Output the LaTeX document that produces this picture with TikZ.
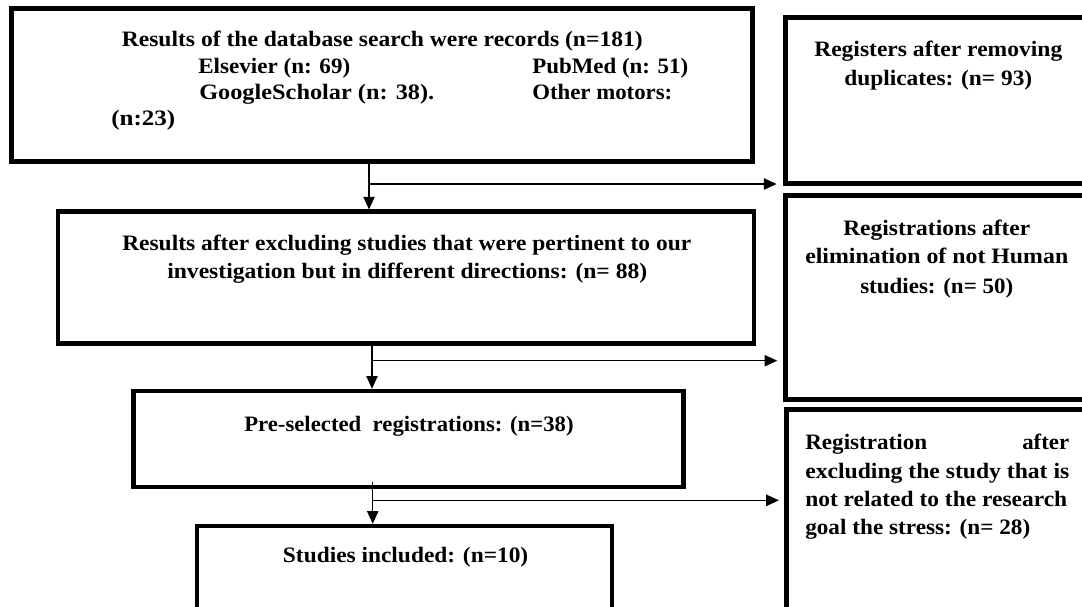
\documentclass[tikz,border=0pt]{standalone}
\usepackage{fontspec}
\setmainfont{Liberation Serif}
\usepackage{graphicx}
\usetikzlibrary{arrows.meta}
\tikzset{
  bx/.style={draw=black, fill=white, line width=3.4pt, rectangle, inner sep=0pt},
  txt/.style={anchor=base west, inner sep=0pt, text=black, font=\fontsize{16.5}{20}\selectfont\bfseries},
  arr/.style={draw=black, line width=0.9pt, -{Triangle[length=9.5pt,width=8.5pt]}},
  ln/.style={draw=black, line width=0.9pt}
}
\newcommand\bxn[5]{\node[bx, minimum width={(#4-#2)*0.75pt}, minimum height={(#5-#3)*0.75pt}] (#1) at ({(#2+#4)/2},{(#3+#5)/2}) {};}
\newcommand\tline[5]{\pgfmathsetlengthmacro\tlw{(#3-#2)*0.75}\node[txt] (#1) at (#2,#4) {\resizebox{\tlw}{\height}{#5}};}
\begin{document}
\begin{tikzpicture}[x=0.75pt,y=-0.75pt]
\useasboundingbox (0,0) rectangle (1082,607);
\clip (0,0) rectangle (1082,607);
\fill[white] (0,0) rectangle (1082,607);
% boxes
\bxn{b1}{11.7}{8.5}{752.5}{161.3}
\bxn{b2}{58.2}{211.7}{754}{343.5}
\bxn{b3}{133.3}{391}{683.3}{487}
\bxn{b4}{197}{526}{612}{660}
\bxn{r1}{785.5}{17.5}{1110}{183.5}
\bxn{r2}{785.5}{195.5}{1110}{399.5}
\bxn{r3}{786.5}{409.5}{1110}{660}
% texts
\tline{t1a}{121.5}{642.5}{46}{Results of the database search were records (n=181)}
\tline{t1b}{198}{350}{73}{Elsevier (n: 69)}
\tline{t1c}{532}{688}{73}{PubMed (n: 51)}
\tline{t1d}{199}{434}{99}{GoogleScholar (n: 38).}
\tline{t1e}{532}{672}{99}{Other motors:}
\tline{t1f}{111}{175}{125}{(n:23)}
\tline{t2a}{122}{691}{250}{Results after excluding studies that were pertinent to our}
\tline{t2b}{167}{647}{278.5}{investigation but in different directions: (n= 88)}
\tline{t3}{244}{573.3}{431}{Pre-selected~ registrations: (n=38)}
\tline{t4}{282.7}{528}{562.7}{Studies included: (n=10)}
\tline{tr1a}{814}{1062}{56.5}{Registers after removing}
\tline{tr1b}{844}{1032}{85}{duplicates: (n= 93)}
\tline{tr2a}{843}{1030}{235}{Registrations after}
\tline{tr2b}{805}{1068}{263.5}{elimination of not Human}
\tline{tr2c}{860}{1013}{293}{studies: (n= 50)}
\tline{tr3a}{805}{927}{449}{Registration}
\tline{tr3b}{1022}{1069}{449}{after}
\tline{tr3c}{805}{1069}{478}{excluding the study that is}
\tline{tr3d}{805}{1067}{506}{not related to the research}
\tline{tr3e}{805}{1030}{534}{goal the stress: (n= 28)}
% connector guides
\coordinate (v1) at (369,0);
\coordinate (v2) at (372,0);
\coordinate (v3) at (372.7,0);
\coordinate (j1) at (369,184);
\coordinate (j2) at (372,360.7);
\coordinate (j3) at (372.7,500.3);
\coordinate (s3) at (372.7,482);
% connectors
\draw[arr] (b1.south -| v1) -- (b2.north -| v1);
\draw[arr, shorten >=5pt] (j1) -- (r1.west |- j1);
\draw[arr] (b2.south -| v2) -- (b3.north -| v2);
\draw[arr, shorten >=4.5pt] (j2) -- (r2.west |- j2);
\draw[arr] (s3) -- (b4.north -| v3);
\draw[arr, shorten >=4pt] (j3) -- (r3.west |- j3);
\end{tikzpicture}
\end{document}
